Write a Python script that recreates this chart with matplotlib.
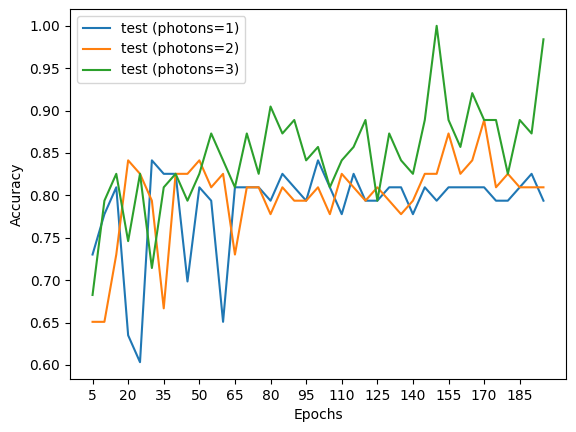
import numpy as np
import matplotlib
matplotlib.use("Agg")
import matplotlib.pyplot as plt

# epochs 5..195 ogni 5
epochs = list(range(5, 200, 5))

acc_p1 = [0.7302, 0.7778, 0.8095, 0.6349, 0.6032, 0.8413, 0.8254, 0.8254, 0.6984, 0.8095,
          0.7937, 0.6508, 0.8095, 0.8095, 0.8095, 0.7937, 0.8254, 0.8095, 0.7937, 0.8413,
          0.8095, 0.7778, 0.8254, 0.7937, 0.7937, 0.8095, 0.8095, 0.7778, 0.8095, 0.7937,
          0.8095, 0.8095, 0.8095, 0.8095, 0.7937, 0.7937, 0.8095, 0.8254, 0.7937]
acc_p2 = [0.6508, 0.6508, 0.7302, 0.8413, 0.8254, 0.7937, 0.6667, 0.8254, 0.8254, 0.8413,
          0.8095, 0.8254, 0.7302, 0.8095, 0.8095, 0.7778, 0.8095, 0.7937, 0.7937, 0.8095,
          0.7778, 0.8254, 0.8095, 0.7937, 0.8095, 0.7937, 0.7778, 0.7937, 0.8254, 0.8254,
          0.8730, 0.8254, 0.8413, 0.8889, 0.8095, 0.8254, 0.8095, 0.8095, 0.8095]
acc_p3 = [0.6825, 0.7937, 0.8254, 0.7460, 0.8254, 0.7143, 0.8095, 0.8254, 0.7937, 0.8254,
          0.8730, 0.8413, 0.8095, 0.8730, 0.8254, 0.9048, 0.8730, 0.8889, 0.8413, 0.8571,
          0.8095, 0.8413, 0.8571, 0.8889, 0.7937, 0.8730, 0.8413, 0.8254, 0.8889, 1.0000,
          0.8889, 0.8571, 0.9206, 0.8889, 0.8889, 0.8254, 0.8889, 0.8730, 0.9841]

labels = ['test (photons=1)', 'test (photons=2)', 'test (photons=3)']

fig = plt.figure(figsize=(5.76, 4.32), dpi=100)
fig.subplots_adjust(left=70/576, right=566/576, top=1-9/432, bottom=1-379/432)
plt.plot(epochs, acc_p1, label=labels[0])
plt.plot(epochs, acc_p2, label=labels[1])
plt.plot(epochs, acc_p3, label=labels[2])
plt.xticks(np.arange(5, 200, 15))
plt.xlabel('Epochs')
plt.ylabel('Accuracy')
plt.legend(loc='upper left')
plt.savefig('out.png')
